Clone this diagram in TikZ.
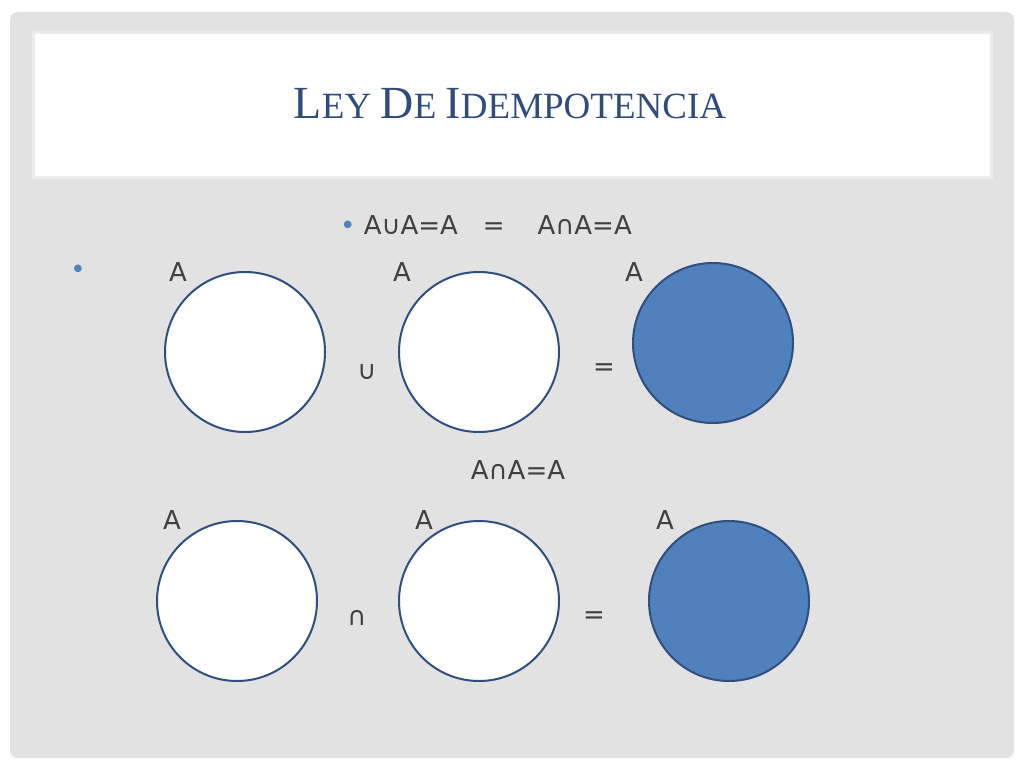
\documentclass[tikz,border=0pt]{standalone}
\usepackage{fontspec}
\setmainfont{DejaVu Sans}
\newfontfamily\titlefont{Liberation Serif}
\definecolor{bgg}{HTML}{E2E2E2}
\definecolor{titc}{HTML}{2F4C7C}
\definecolor{fillb}{HTML}{4F81BD}
\definecolor{edgeb}{HTML}{2F4F7F}
\definecolor{txt}{HTML}{404040}
\begin{document}
\begin{tikzpicture}[x=1pt,y=-1pt,
  circ/.style={circle,draw=edgeb,line width=2pt,minimum size=160pt,inner sep=0pt,fill=white},
  full/.style={circ,fill=fillb},
  lab/.style={text=txt,font=\fontsize{26}{30}\selectfont,inner sep=0pt}]
\useasboundingbox (0,0) rectangle (1024,768);
\fill[white] (0,0) rectangle (1024,768);
\fill[bgg,rounded corners=8pt] (10,12) rectangle (1014,758);
\node[draw=white!85!gray,line width=3pt,fill=white,minimum width=958pt,minimum height=144pt] (tb) at (512,105) {};
\node[text=titc,font=\titlefont\fontsize{46}{50}\selectfont] (title) at (510,104) {L\fontsize{37}{40}\selectfont EY \fontsize{46}{50}\selectfont D\fontsize{37}{40}\selectfont E \fontsize{46}{50}\selectfont I\fontsize{37}{40}\selectfont DEMPOTENCIA};
\node[lab,anchor=west] (eq) at (340,225) {{\color{fillb}•} A∪A=A\ \ \ =\ \ \ \ A∩A=A};
\node[lab,text=fillb] (b2) at (78,272) {•};
\node[circ] (c1) at (245,352) {};
\node[circ] (c2) at (479,352) {};
\node[full] (c3) at (713,343) {};
\node[circ] (d1) at (237,601) {};
\node[circ] (d2) at (479,601) {};
\node[full] (d3) at (729,601) {};
\node[lab] (a1) at (178,272) {A};
\node[lab] (a2) at (402,272) {A};
\node[lab] (a3) at (634,272) {A};
\node[lab] (a4) at (172,520) {A};
\node[lab] (a5) at (424,520) {A};
\node[lab] (a6) at (665,520) {A};
\node[lab] (u) at (367,372) {∪};
\node[lab] (e1) at (604,370) {=};
\node[lab] (mid) at (518,470) {A∩A=A};
\node[lab] (n) at (357,618) {∩};
\node[lab] (e2) at (594,618) {=};
\end{tikzpicture}
\end{document}
